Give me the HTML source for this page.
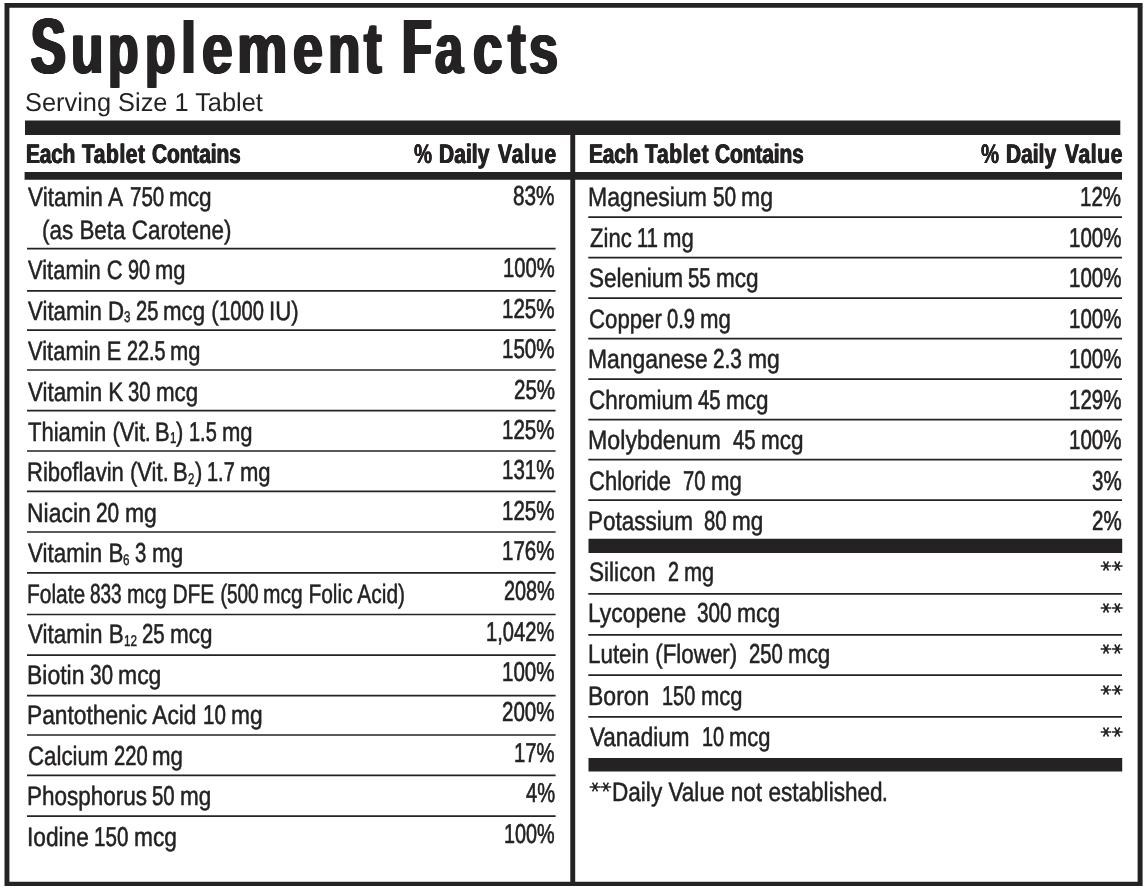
<!DOCTYPE html>
<html><head><meta charset="utf-8"><title>Supplement Facts</title>
<style>
html,body{margin:0;padding:0;background:#fff;}
body{width:1147px;height:889px;position:relative;overflow:hidden;font-family:"Liberation Sans",sans-serif;color:#252223;text-rendering:geometricPrecision;}
.r{position:absolute;background:#252223;}
.t{position:absolute;white-space:pre;transform-origin:0 0;}
.a{position:absolute;display:block;overflow:visible;}
.c0{font-size:78px;line-height:90px;height:90px;font-weight:bold;text-shadow:2.55px 0 0 #252223,-2.55px 0 0 #252223,1.27px 0 0 #252223,-1.27px 0 0 #252223,1.91px 0 0 #252223,-1.91px 0 0 #252223,0.64px 0 0 #252223,-0.64px 0 0 #252223;}
.c1{font-size:70.5px;line-height:81px;height:81px;font-weight:bold;text-shadow:1.52px 0 0 #252223,-1.52px 0 0 #252223,0.76px 0 0 #252223,-0.76px 0 0 #252223;}
.c2{font-size:70.5px;line-height:81px;height:81px;font-weight:bold;text-shadow:1.62px 0 0 #252223,-1.62px 0 0 #252223,0.81px 0 0 #252223,-0.81px 0 0 #252223;}
.c3{font-size:73px;line-height:84px;height:84px;font-weight:bold;text-shadow:1.54px 0 0 #252223,-1.54px 0 0 #252223,0.77px 0 0 #252223,-0.77px 0 0 #252223;}
.c4{font-size:70.5px;line-height:81px;height:81px;font-weight:bold;text-shadow:1.47px 0 0 #252223,-1.47px 0 0 #252223,0.73px 0 0 #252223,-0.73px 0 0 #252223;}
.c5{font-size:70.5px;line-height:81px;height:81px;font-weight:bold;text-shadow:1.43px 0 0 #252223,-1.43px 0 0 #252223,0.71px 0 0 #252223,-0.71px 0 0 #252223;}
.c6{font-size:70.5px;line-height:81px;height:81px;font-weight:bold;text-shadow:1.51px 0 0 #252223,-1.51px 0 0 #252223,0.76px 0 0 #252223,-0.76px 0 0 #252223;}
.c7{font-size:72.5px;line-height:83px;height:83px;font-weight:bold;text-shadow:1.58px 0 0 #252223,-1.58px 0 0 #252223,0.79px 0 0 #252223,-0.79px 0 0 #252223;}
.c8{font-size:77px;line-height:89px;height:89px;font-weight:bold;text-shadow:3.88px 0 0 #252223,-3.88px 0 0 #252223,1.94px 0 0 #252223,-1.94px 0 0 #252223,2.91px 0 0 #252223,-2.91px 0 0 #252223,0.97px 0 0 #252223,-0.97px 0 0 #252223;}
.c9{font-size:70.5px;line-height:81px;height:81px;font-weight:bold;text-shadow:1.61px 0 0 #252223,-1.61px 0 0 #252223,0.81px 0 0 #252223,-0.81px 0 0 #252223;}
.c10{font-size:70.5px;line-height:81px;height:81px;font-weight:bold;text-shadow:1.55px 0 0 #252223,-1.55px 0 0 #252223,0.78px 0 0 #252223,-0.78px 0 0 #252223;}
.c11{font-size:25.8px;line-height:30px;height:30px;}
.c12{font-size:26.8px;line-height:31px;height:31px;font-weight:bold;-webkit-text-stroke:0.15px #252223;text-shadow:0.60px 0 0 #252223,-0.60px 0 0 #252223;}
.c13{font-size:26.8px;line-height:31px;height:31px;font-weight:bold;text-shadow:0.20px 0 0 #252223,-0.20px 0 0 #252223;}
.c14{font-size:26.6px;line-height:31px;height:31px;-webkit-text-stroke:0.5px #252223;}
.c15{font-size:27.3px;line-height:31px;height:31px;-webkit-text-stroke:0.65px #252223;}
.c16{font-size:15.5px;line-height:18px;height:18px;-webkit-text-stroke:0.45px #252223;}
#w{position:absolute;left:0;top:0;width:1147px;height:889px;will-change:transform;}
</style></head><body><div id="w">
<svg class="a" style="left:0;top:0" width="1147" height="889" viewBox="0 0 1147 889"><path d="M4.5 3.00h1138.1v4.70h-1138.1zM4.5 881.70h1138.1v4.40h-1138.1zM4.5 3.00h4.9v883.10h-4.9zM1137.6 3.00h5.0v883.10h-5.0zM25.0 120.60h1095.3v14.50h-1095.3zM24.6 172.00h1097.4v7.80h-1097.4zM570.3 135.00h4.9v747.00h-4.9zM27.0 247.85h528.6v1.70h-528.6zM27.0 290.05h528.6v1.70h-528.6zM27.0 329.25h528.6v1.70h-528.6zM27.0 369.15h528.6v1.70h-528.6zM27.0 409.85h528.6v1.70h-528.6zM27.0 450.15h528.6v1.70h-528.6zM27.0 490.55h528.6v1.70h-528.6zM27.0 531.15h528.6v1.70h-528.6zM27.0 572.05h528.6v1.70h-528.6zM27.0 613.65h528.6v1.70h-528.6zM27.0 654.25h528.6v1.70h-528.6zM27.0 694.75h528.6v1.70h-528.6zM27.0 734.15h528.6v1.70h-528.6zM27.0 774.45h528.6v1.70h-528.6zM27.0 815.25h528.6v1.70h-528.6zM588.3 216.35h533.7v1.70h-533.7zM588.3 256.85h533.7v1.70h-533.7zM588.3 297.25h533.7v1.70h-533.7zM588.3 337.75h533.7v1.70h-533.7zM588.3 378.35h533.7v1.70h-533.7zM588.3 418.85h533.7v1.70h-533.7zM588.3 458.75h533.7v1.70h-533.7zM588.3 499.25h533.7v1.70h-533.7zM588.3 592.95h533.7v1.70h-533.7zM588.3 633.95h533.7v1.70h-533.7zM588.3 674.25h533.7v1.70h-533.7zM588.3 716.05h533.7v1.70h-533.7zM588.5 538.70h533.7v14.20h-533.7zM588.5 757.90h533.7v13.70h-533.7z" fill="#252223" fill-rule="nonzero"/></svg>
<svg class="a" style="left:1099.60px;top:560.30px" width="23.3" height="12" viewBox="0 0 23.3 12"><path d="M0.70 6.00H11.30M3.50 1.50L8.50 10.50M8.50 1.50L3.50 10.50M12.00 6.00H22.60M14.80 1.50L19.80 10.50M19.80 1.50L14.80 10.50" fill="none" stroke="#252223" stroke-width="1.55"/></svg>
<svg class="a" style="left:1099.60px;top:601.90px" width="23.3" height="12" viewBox="0 0 23.3 12"><path d="M0.70 6.00H11.30M3.50 1.50L8.50 10.50M8.50 1.50L3.50 10.50M12.00 6.00H22.60M14.80 1.50L19.80 10.50M19.80 1.50L14.80 10.50" fill="none" stroke="#252223" stroke-width="1.55"/></svg>
<svg class="a" style="left:1099.60px;top:642.50px" width="23.3" height="12" viewBox="0 0 23.3 12"><path d="M0.70 6.00H11.30M3.50 1.50L8.50 10.50M8.50 1.50L3.50 10.50M12.00 6.00H22.60M14.80 1.50L19.80 10.50M19.80 1.50L14.80 10.50" fill="none" stroke="#252223" stroke-width="1.55"/></svg>
<svg class="a" style="left:1099.60px;top:684.40px" width="23.3" height="12" viewBox="0 0 23.3 12"><path d="M0.70 6.00H11.30M3.50 1.50L8.50 10.50M8.50 1.50L3.50 10.50M12.00 6.00H22.60M14.80 1.50L19.80 10.50M19.80 1.50L14.80 10.50" fill="none" stroke="#252223" stroke-width="1.55"/></svg>
<svg class="a" style="left:1099.60px;top:725.80px" width="23.3" height="12" viewBox="0 0 23.3 12"><path d="M0.70 6.00H11.30M3.50 1.50L8.50 10.50M8.50 1.50L3.50 10.50M12.00 6.00H22.60M14.80 1.50L19.80 10.50M19.80 1.50L14.80 10.50" fill="none" stroke="#252223" stroke-width="1.55"/></svg>
<svg class="a" style="left:588.50px;top:780.80px" width="22.9" height="12" viewBox="0 0 22.9 12"><path d="M0.70 6.00H11.30M3.50 1.50L8.50 10.50M8.50 1.50L3.50 10.50M11.60 6.00H22.20M14.40 1.50L19.40 10.50M19.40 1.50L14.40 10.50" fill="none" stroke="#252223" stroke-width="1.55"/></svg>
<div class="t c0" style="left:31.07px;top:1px;transform:scaleX(0.6660)">S</div>
<div class="t c1" style="left:70.63px;top:8px;transform:scaleX(0.7545)">u</div>
<div class="t c2" style="left:108.01px;top:8px;transform:scaleX(0.7083)">p</div>
<div class="t c2" style="left:144.81px;top:8px;transform:scaleX(0.7083)">p</div>
<div class="t c3" style="left:181.32px;top:7px;transform:scaleX(0.7457)">l</div>
<div class="t c4" style="left:202.39px;top:8px;transform:scaleX(0.7828)">e</div>
<div class="t c5" style="left:237.43px;top:8px;transform:scaleX(0.8037)">m</div>
<div class="t c6" style="left:293.33px;top:8px;transform:scaleX(0.7628)">e</div>
<div class="t c1" style="left:328.43px;top:8px;transform:scaleX(0.7545)">n</div>
<div class="t c7" style="left:364.25px;top:7px;transform:scaleX(0.7290)">t</div>
<div class="t c8" style="left:403.14px;top:3px;transform:scaleX(0.5925)">F</div>
<div class="t c9" style="left:435.22px;top:8px;transform:scaleX(0.7157)">a</div>
<div class="t c1" style="left:472.84px;top:8px;transform:scaleX(0.7556)">c</div>
<div class="t c7" style="left:507.55px;top:7px;transform:scaleX(0.7290)">t</div>
<div class="t c10" style="left:528.57px;top:8px;transform:scaleX(0.7402)">s</div>
<div class="t c11" style="left:24.82px;top:88px;transform:scaleX(0.9835)">Serving Size 1 Tablet</div>
<div class="t c12" style="left:26.35px;top:139px;transform:scaleX(0.7800);letter-spacing:-0.28px">Each</div>
<div class="t c12" style="left:81.73px;top:139px;transform:scaleX(0.7800);letter-spacing:0.77px">Tablet</div>
<div class="t c12" style="left:152.05px;top:139px;transform:scaleX(0.7800);letter-spacing:-0.12px">Contains</div>
<div class="t c13" style="left:414.25px;top:139px;transform:scaleX(0.7582)">%</div>
<div class="t c12" style="left:439.45px;top:139px;transform:scaleX(0.7800);letter-spacing:0.13px">Daily</div>
<div class="t c12" style="left:497.63px;top:139px;transform:scaleX(0.7800);letter-spacing:1.13px">Value</div>
<div class="t c12" style="left:589.35px;top:139px;transform:scaleX(0.7800);letter-spacing:-0.28px">Each</div>
<div class="t c12" style="left:644.73px;top:139px;transform:scaleX(0.7800);letter-spacing:0.92px">Tablet</div>
<div class="t c12" style="left:715.45px;top:139px;transform:scaleX(0.7800);letter-spacing:-0.12px">Contains</div>
<div class="t c13" style="left:980.75px;top:139px;transform:scaleX(0.7582)">%</div>
<div class="t c12" style="left:1006.25px;top:139px;transform:scaleX(0.7800);letter-spacing:0.03px">Daily</div>
<div class="t c12" style="left:1064.53px;top:139px;transform:scaleX(0.7800);letter-spacing:0.88px">Value</div>
<div class="t c14" style="left:28.01px;top:182px;transform:scaleX(0.8495)">Vitamin A</div>
<div class="t c15" style="left:129.51px;top:181px;transform:scaleX(0.7498)">750</div>
<div class="t c14" style="left:168.88px;top:182px;transform:scaleX(0.8495)">mcg</div>
<div class="t c14" style="left:42.07px;top:215px;transform:scaleX(0.8432)">(as Beta Carotene)</div>
<div class="t c15" style="left:513.13px;top:180px;transform:scaleX(0.7593)">83%</div>
<div class="t c14" style="left:28.01px;top:255px;transform:scaleX(0.8250)">Vitamin C</div>
<div class="t c15" style="left:127.78px;top:254px;transform:scaleX(0.7281)">90</div>
<div class="t c14" style="left:154.97px;top:255px;transform:scaleX(0.8250)">mg</div>
<div class="t c15" style="left:503.01px;top:252px;transform:scaleX(0.7392)">100%</div>
<div class="t c14" style="left:28.01px;top:296px;transform:scaleX(0.8367)">Vitamin D</div>
<div class="t c16" style="left:124.06px;top:309px;transform:scaleX(0.7464)">3</div>
<div class="t c15" style="left:135.64px;top:295px;transform:scaleX(0.7385)">25</div>
<div class="t c14" style="left:163.22px;top:296px;transform:scaleX(0.8367)">mcg (</div>
<div class="t c15" style="left:218.85px;top:295px;transform:scaleX(0.7385)">1000</div>
<div class="t c14" style="left:268.85px;top:296px;transform:scaleX(0.8367)">IU)</div>
<div class="t c15" style="left:502.12px;top:293px;transform:scaleX(0.7520)">125%</div>
<div class="t c14" style="left:28.01px;top:336px;transform:scaleX(0.8246)">Vitamin E</div>
<div class="t c15" style="left:126.53px;top:335px;transform:scaleX(0.7279)">22.5</div>
<div class="t c14" style="left:170.28px;top:336px;transform:scaleX(0.8246)">mg</div>
<div class="t c15" style="left:502.12px;top:333px;transform:scaleX(0.7520)">150%</div>
<div class="t c14" style="left:28.01px;top:377px;transform:scaleX(0.8405)">Vitamin K</div>
<div class="t c15" style="left:128.43px;top:376px;transform:scaleX(0.7418)">30</div>
<div class="t c14" style="left:156.13px;top:377px;transform:scaleX(0.8405)">mcg</div>
<div class="t c15" style="left:513.53px;top:374px;transform:scaleX(0.7520)">25%</div>
<div class="t c14" style="left:27.61px;top:417px;transform:scaleX(0.8285)">Thiamin (Vit</div>
<div class="t c15" style="left:144.74px;top:416px;transform:scaleX(0.7312)">.</div>
<div class="t c14" style="left:155.39px;top:417px;transform:scaleX(0.8285)">B</div>
<div class="t c16" style="left:170.08px;top:430px;transform:scaleX(0.7390)">1</div>
<div class="t c14" style="left:176.45px;top:417px;transform:scaleX(0.8285)">)</div>
<div class="t c15" style="left:188.89px;top:416px;transform:scaleX(0.7312)">1.5</div>
<div class="t c14" style="left:221.74px;top:417px;transform:scaleX(0.8285)">mg</div>
<div class="t c15" style="left:502.12px;top:414px;transform:scaleX(0.7520)">125%</div>
<div class="t c14" style="left:27.15px;top:457px;transform:scaleX(0.8291)">Riboflavin (Vit</div>
<div class="t c15" style="left:162.76px;top:456px;transform:scaleX(0.7318)">.</div>
<div class="t c14" style="left:173.42px;top:457px;transform:scaleX(0.8291)">B</div>
<div class="t c16" style="left:188.12px;top:471px;transform:scaleX(0.7395)">2</div>
<div class="t c14" style="left:194.50px;top:457px;transform:scaleX(0.8291)">)</div>
<div class="t c15" style="left:206.95px;top:456px;transform:scaleX(0.7318)">1.7</div>
<div class="t c14" style="left:239.82px;top:457px;transform:scaleX(0.8291)">mg</div>
<div class="t c15" style="left:502.12px;top:454px;transform:scaleX(0.7520)">131%</div>
<div class="t c14" style="left:27.09px;top:498px;transform:scaleX(0.8628)">Niacin</div>
<div class="t c15" style="left:96.16px;top:497px;transform:scaleX(0.7615)">20</div>
<div class="t c14" style="left:124.59px;top:498px;transform:scaleX(0.8628)">mg</div>
<div class="t c15" style="left:502.12px;top:495px;transform:scaleX(0.7520)">125%</div>
<div class="t c14" style="left:28.01px;top:538px;transform:scaleX(0.8420)">Vitamin B</div>
<div class="t c16" style="left:123.42px;top:552px;transform:scaleX(0.7511)">6</div>
<div class="t c15" style="left:135.08px;top:537px;transform:scaleX(0.7432)">3</div>
<div class="t c14" style="left:151.55px;top:538px;transform:scaleX(0.8420)">mg</div>
<div class="t c15" style="left:502.12px;top:535px;transform:scaleX(0.7520)">176%</div>
<div class="t c14" style="left:27.22px;top:579px;transform:scaleX(0.7879)">Folate</div>
<div class="t c15" style="left:90.31px;top:578px;transform:scaleX(0.6954)">833</div>
<div class="t c14" style="left:126.83px;top:579px;transform:scaleX(0.7879)">mcg DFE (</div>
<div class="t c15" style="left:226.95px;top:578px;transform:scaleX(0.6954)">500</div>
<div class="t c14" style="left:263.47px;top:579px;transform:scaleX(0.7879)">mcg Folic Acid)</div>
<div class="t c15" style="left:503.85px;top:575px;transform:scaleX(0.7271)">208%</div>
<div class="t c14" style="left:28.01px;top:619px;transform:scaleX(0.8450)">Vitamin B</div>
<div class="t c16" style="left:123.76px;top:633px;transform:scaleX(0.7537)">12</div>
<div class="t c15" style="left:141.96px;top:618px;transform:scaleX(0.7458)">25</div>
<div class="t c14" style="left:169.81px;top:619px;transform:scaleX(0.8450)">mcg</div>
<div class="t c15" style="left:486.31px;top:616px;transform:scaleX(0.7378)">1,042%</div>
<div class="t c14" style="left:27.09px;top:660px;transform:scaleX(0.8634)">Biotin</div>
<div class="t c15" style="left:89.84px;top:659px;transform:scaleX(0.7620)">30</div>
<div class="t c14" style="left:118.29px;top:660px;transform:scaleX(0.8634)">mcg</div>
<div class="t c15" style="left:502.12px;top:656px;transform:scaleX(0.7520)">100%</div>
<div class="t c14" style="left:27.10px;top:700px;transform:scaleX(0.8557)">Pantothenic Acid</div>
<div class="t c15" style="left:203.15px;top:699px;transform:scaleX(0.7553)">10</div>
<div class="t c14" style="left:231.35px;top:700px;transform:scaleX(0.8557)">mg</div>
<div class="t c15" style="left:502.12px;top:696px;transform:scaleX(0.7520)">200%</div>
<div class="t c14" style="left:27.97px;top:741px;transform:scaleX(0.8371)">Calcium</div>
<div class="t c15" style="left:113.53px;top:740px;transform:scaleX(0.7388)">220</div>
<div class="t c14" style="left:152.33px;top:741px;transform:scaleX(0.8371)">mg</div>
<div class="t c15" style="left:514.10px;top:737px;transform:scaleX(0.7415)">17%</div>
<div class="t c14" style="left:27.12px;top:781px;transform:scaleX(0.8456)">Phosphorus</div>
<div class="t c15" style="left:152.35px;top:780px;transform:scaleX(0.7464)">50</div>
<div class="t c14" style="left:180.22px;top:781px;transform:scaleX(0.8456)">mg</div>
<div class="t c15" style="left:525.58px;top:777px;transform:scaleX(0.7359)">4%</div>
<div class="t c14" style="left:27.11px;top:822px;transform:scaleX(0.8536)">Iodine</div>
<div class="t c15" style="left:94.21px;top:821px;transform:scaleX(0.7534)">150</div>
<div class="t c14" style="left:133.78px;top:822px;transform:scaleX(0.8536)">mcg</div>
<div class="t c15" style="left:503.93px;top:818px;transform:scaleX(0.7260)">100%</div>
<div class="t c14" style="left:588.29px;top:182px;transform:scaleX(0.8649)">Magnesium</div>
<div class="t c15" style="left:712.51px;top:181px;transform:scaleX(0.7634)">50</div>
<div class="t c14" style="left:741.01px;top:182px;transform:scaleX(0.8649)">mg</div>
<div class="t c15" style="left:1080.33px;top:181px;transform:scaleX(0.7520)">12%</div>
<div class="t c14" style="left:590.01px;top:223px;transform:scaleX(0.8308)">Zinc</div>
<div class="t c15" style="left:636.86px;top:222px;transform:scaleX(0.7333)">11</div>
<div class="t c14" style="left:662.76px;top:223px;transform:scaleX(0.8308)">mg</div>
<div class="t c15" style="left:1068.92px;top:222px;transform:scaleX(0.7520)">100%</div>
<div class="t c14" style="left:589.16px;top:263px;transform:scaleX(0.8485)">Selenium</div>
<div class="t c15" style="left:688.46px;top:262px;transform:scaleX(0.7489)">55</div>
<div class="t c14" style="left:716.43px;top:263px;transform:scaleX(0.8485)">mcg</div>
<div class="t c15" style="left:1068.92px;top:262px;transform:scaleX(0.7520)">100%</div>
<div class="t c14" style="left:589.17px;top:304px;transform:scaleX(0.8353)">Copper</div>
<div class="t c15" style="left:667.17px;top:303px;transform:scaleX(0.7373)">0.9</div>
<div class="t c14" style="left:700.29px;top:304px;transform:scaleX(0.8353)">mg</div>
<div class="t c15" style="left:1068.92px;top:303px;transform:scaleX(0.7520)">100%</div>
<div class="t c14" style="left:588.29px;top:344px;transform:scaleX(0.8617)">Manganese</div>
<div class="t c15" style="left:713.36px;top:343px;transform:scaleX(0.7606)">2.3</div>
<div class="t c14" style="left:747.53px;top:344px;transform:scaleX(0.8617)">mg</div>
<div class="t c15" style="left:1068.92px;top:343px;transform:scaleX(0.7520)">100%</div>
<div class="t c14" style="left:589.17px;top:385px;transform:scaleX(0.8448)">Chromium</div>
<div class="t c15" style="left:697.98px;top:384px;transform:scaleX(0.7456)">45</div>
<div class="t c14" style="left:725.82px;top:385px;transform:scaleX(0.8448)">mcg</div>
<div class="t c15" style="left:1068.92px;top:384px;transform:scaleX(0.7520)">129%</div>
<div class="t c14" style="left:588.27px;top:425px;transform:scaleX(0.8723)">Molybdenum</div>
<div class="t c15" style="left:732.79px;top:424px;transform:scaleX(0.7466)">45</div>
<div class="t c14" style="left:760.66px;top:425px;transform:scaleX(0.8458)">mcg</div>
<div class="t c15" style="left:1068.92px;top:424px;transform:scaleX(0.7520)">100%</div>
<div class="t c14" style="left:589.18px;top:466px;transform:scaleX(0.8276)">Chloride</div>
<div class="t c15" style="left:683.25px;top:465px;transform:scaleX(0.7349)">70</div>
<div class="t c14" style="left:710.69px;top:466px;transform:scaleX(0.8326)">mg</div>
<div class="t c15" style="left:1091.75px;top:465px;transform:scaleX(0.7520)">3%</div>
<div class="t c14" style="left:588.32px;top:506px;transform:scaleX(0.8445)">Potassium</div>
<div class="t c15" style="left:704.14px;top:505px;transform:scaleX(0.7465)">80</div>
<div class="t c14" style="left:732.01px;top:506px;transform:scaleX(0.8457)">mg</div>
<div class="t c15" style="left:1091.75px;top:505px;transform:scaleX(0.7520)">2%</div>
<div class="t c14" style="left:589.16px;top:557px;transform:scaleX(0.8501)">Silicon</div>
<div class="t c15" style="left:668.16px;top:556px;transform:scaleX(0.7215)">2</div>
<div class="t c14" style="left:684.14px;top:557px;transform:scaleX(0.8174)">mg</div>
<div class="t c14" style="left:588.30px;top:598px;transform:scaleX(0.8585)">Lycopene</div>
<div class="t c15" style="left:697.43px;top:597px;transform:scaleX(0.7587)">300</div>
<div class="t c14" style="left:737.28px;top:598px;transform:scaleX(0.8596)">mcg</div>
<div class="t c14" style="left:588.33px;top:639px;transform:scaleX(0.8417)">Lutein (Flower)</div>
<div class="t c15" style="left:748.84px;top:638px;transform:scaleX(0.7430)">250</div>
<div class="t c14" style="left:787.86px;top:639px;transform:scaleX(0.8418)">mcg</div>
<div class="t c14" style="left:588.29px;top:681px;transform:scaleX(0.8650)">Boron</div>
<div class="t c15" style="left:662.42px;top:680px;transform:scaleX(0.7294)">150</div>
<div class="t c14" style="left:700.73px;top:681px;transform:scaleX(0.8264)">mcg</div>
<div class="t c14" style="left:590.01px;top:722px;transform:scaleX(0.8453)">Vanadium</div>
<div class="t c15" style="left:701.53px;top:721px;transform:scaleX(0.7280)">10</div>
<div class="t c14" style="left:728.71px;top:722px;transform:scaleX(0.8248)">mcg</div>
<div class="t c14" style="left:611.61px;top:777px;transform:scaleX(0.8487)">Daily Value not established</div>
<div class="t c15" style="left:882.22px;top:776px;transform:scaleX(0.7491)">.</div>
</div></body></html>
